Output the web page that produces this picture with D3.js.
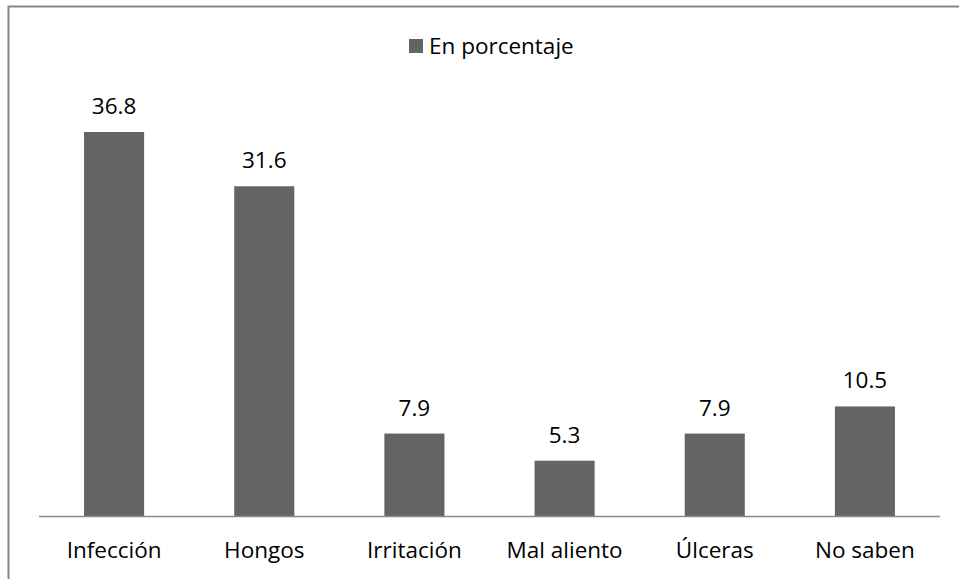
<!DOCTYPE html>
<html><head><meta charset="utf-8">
<script src="https://cdn.jsdelivr.net/npm/d3@7"></script>
<style>body{margin:0;background:#fff}</style>
</head><body>
<svg id="c" width="959" height="579"></svg>
<script>
const categories = ["Infección","Hongos","Irritación","Mal aliento","Úlceras","No saben"];
const values = [36.8,31.6,7.9,5.3,7.9,10.5];
const seriesName = "En porcentaje";

const svg = d3.select("#c");
const font = "'Open Sans', sans-serif";
const fs = 22.5;
svg.append("rect").attr("x",8.5).attr("y",6.5).attr("width",960).attr("height",600)
  .attr("fill","#fff").attr("stroke","#868686").attr("stroke-width",2);

const x = d3.scaleBand().domain(categories).range([39,940]).paddingInner(0.6).paddingOuter(0.3);
const y = d3.scaleLinear().domain([0,36.8]).range([516,132]);

svg.selectAll(".bar").data(values).enter().append("rect")
  .attr("x",(d,i)=>x(categories[i])).attr("width",x.bandwidth())
  .attr("y",d=>y(d)).attr("height",d=>y(0)-y(d)).attr("fill","#646464");

const ax = svg.append("g").attr("transform",`translate(0,${y(0)})`)
  .call(d3.axisBottom(x).tickSize(0).tickPadding(26));
ax.select(".domain").attr("stroke","#898989").attr("stroke-width",1.5).attr("d","M39,0.5H940");
ax.selectAll("text").attr("font-family",font).attr("font-size",fs).attr("fill","#000");

svg.selectAll(".lbl").data(values).enter().append("text")
  .attr("x",(d,i)=>x(categories[i])+x.bandwidth()/2).attr("y",d=>y(d)-18)
  .attr("text-anchor","middle").attr("font-family",font).attr("font-size",fs).attr("fill","#000")
  .text(d=>d.toFixed(1));

const lg = svg.append("g");
lg.append("rect").attr("x",409).attr("y",39).attr("width",14).attr("height",14).attr("fill","#646464");
lg.append("text").attr("x",429).attr("y",54).attr("font-family",font).attr("font-size",fs).attr("fill","#000").text(seriesName);
</script>
</body></html>
